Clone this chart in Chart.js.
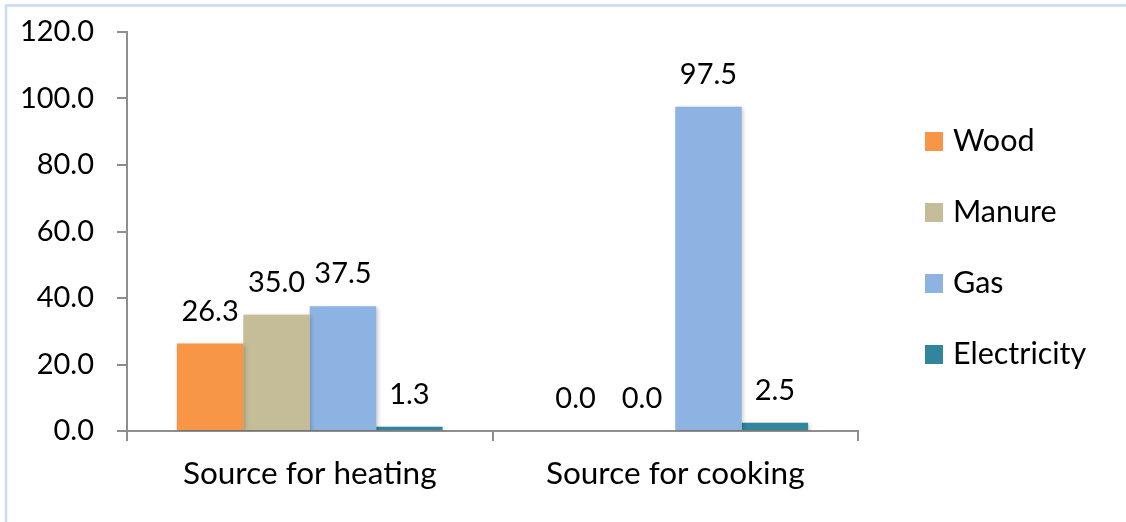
<!DOCTYPE html>
<html>
<head>
<meta charset="utf-8">
<script src="https://cdn.jsdelivr.net/npm/chart.js@4.4.1/dist/chart.umd.min.js"></script>
<style>
  html, body { margin: 0; padding: 0; background: #ffffff; }
  #wrap { width: 1126px; height: 522px; position: relative; }
</style>
</head>
<body>
<div id="wrap"><canvas id="chart" width="1126" height="522"></canvas></div>
<script>
// Household energy sources, percent of respondents
const categories = ['Source for heating', 'Source for cooking'];
const seriesNames = ['Wood', 'Manure', 'Gas', 'Electricity'];
const wood = [26.3, 0.0];
const manure = [35.0, 0.0];
const gas = [37.5, 97.5];
const electricity = [1.3, 2.5];
const seriesColors = ['#F79646', '#C4BD97', '#8DB3E2', '#31859C'];
const yTicks = [0, 20, 40, 60, 80, 100, 120];

const FONT = 'Lato, "Open Sans", sans-serif';
const AXIS_COLOR = '#8e8e8e';

const seriesValues = [wood, manure, gas, electricity];

// Light frame along the top and left edges of the figure
const framePlugin = {
  id: 'frame',
  beforeDraw(chart) {
    const ctx = chart.ctx;
    ctx.save();
    ctx.fillStyle = '#ffffff';
    ctx.fillRect(0, 0, chart.width, chart.height);
    ctx.strokeStyle = '#c8d9f0';
    ctx.lineWidth = 2.5;
    ctx.beginPath();
    ctx.moveTo(chart.width, 5.5);
    ctx.lineTo(6, 5.5);
    ctx.lineTo(6, chart.height);
    ctx.stroke();
    ctx.restore();
  }
};

// Soft drop shadow under the bars
const shadowPlugin = {
  id: 'barShadow',
  beforeDatasetsDraw(chart) {
    const ctx = chart.ctx;
    ctx.save();
    ctx.shadowColor = 'rgba(0,0,0,0.22)';
    ctx.shadowBlur = 4;
    ctx.shadowOffsetX = 1.5;
    ctx.shadowOffsetY = 1.5;
  },
  afterDatasetsDraw(chart) {
    chart.ctx.restore();
  }
};

// Value labels above each bar
const valueLabelPlugin = {
  id: 'valueLabels',
  afterDatasetsDraw(chart) {
    const ctx = chart.ctx;
    ctx.save();
    ctx.font = '29px ' + FONT;
    ctx.fillStyle = '#000000';
    ctx.textAlign = 'center';
    ctx.textBaseline = 'alphabetic';
    chart.data.datasets.forEach((ds, di) => {
      const meta = chart.getDatasetMeta(di);
      meta.data.forEach((el, i) => {
        const v = ds.data[i];
        ctx.fillText(v.toFixed(1), el.x, el.y - 23);
      });
    });
    ctx.restore();
  }
};

// Legend column at the right
const legendPlugin = {
  id: 'sideLegend',
  afterDraw(chart) {
    const ctx = chart.ctx;
    const x0 = 925, box = 18, gap = 10;
    const yStart = 141, step = 71;
    ctx.save();
    ctx.font = '30.5px ' + FONT;
    ctx.textBaseline = 'middle';
    ctx.textAlign = 'left';
    chart.data.datasets.forEach((ds, i) => {
      const cy = yStart + i * step;
      ctx.fillStyle = ds.backgroundColor;
      ctx.fillRect(x0, cy - box / 2, box, box + 1);
      ctx.fillStyle = '#000000';
      ctx.fillText(ds.label, x0 + box + gap, cy);
    });
    ctx.restore();
  }
};

const datasets = seriesNames.map((name, i) => ({
  label: name,
  data: seriesValues[i],
  backgroundColor: seriesColors[i],
  borderWidth: 0,
  categoryPercentage: 0.727,
  barPercentage: 1.0
}));

new Chart(document.getElementById('chart'), {
  type: 'bar',
  data: { labels: categories, datasets },
  plugins: [framePlugin, shadowPlugin, valueLabelPlugin, legendPlugin],
  options: {
    responsive: false,
    animation: false,
    events: [],
    layout: { padding: { left: 0, right: 268, top: 32, bottom: 0 } },
    plugins: {
      legend: { display: false },
      tooltip: { enabled: false },
      title: { display: false }
    },
    scales: {
      x: {
        grid: {
          display: true,
          offset: true,
          drawOnChartArea: false,
          drawTicks: true,
          tickLength: 10,
          color: AXIS_COLOR,
          lineWidth: 2
        },
        border: { display: true, color: AXIS_COLOR, width: 2 },
        ticks: {
          color: '#000000',
          font: { family: FONT, size: 31.5 },
          padding: 14
        },
        afterFit(scale) {
          scale.height = 91;
          scale.paddingLeft = 0;
          scale.paddingRight = 0;
        }
      },
      y: {
        min: 0,
        max: 120,
        afterBuildTicks(scale) {
          scale.ticks = yTicks.map(v => ({ value: v }));
        },
        grid: {
          display: true,
          drawOnChartArea: false,
          drawTicks: true,
          tickLength: 10,
          color: AXIS_COLOR,
          lineWidth: 2
        },
        border: { display: true, color: AXIS_COLOR, width: 2 },
        ticks: {
          color: '#000000',
          font: { family: FONT, size: 29 },
          padding: 23,
          callback: (v) => Number(v).toFixed(1)
        },
        afterFit(scale) {
          scale.width = 127;
          scale.paddingTop = 0;
          scale.paddingBottom = 0;
        }
      }
    }
  }
});
</script>
</body>
</html>
